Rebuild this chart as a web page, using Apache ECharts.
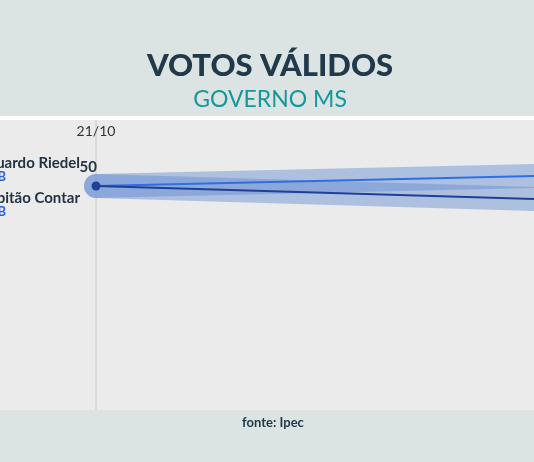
<!DOCTYPE html><html><head><meta charset="utf-8">
<script src="https://cdn.jsdelivr.net/npm/echarts@6/dist/echarts.min.js"></script>
<style>html,body{margin:0;padding:0;background:#dbe4e3}#c{width:534px;height:462px}</style></head><body><div id="c"></div>
<script>
const dates = [0, 1];
const riedel = [50, 52.2];
const contar = [50, 47.1];
const names = ['Eduardo Riedel', 'Capitão Contar'];
const parties = ['PSDB', 'PRTB'];
const font = 'Lato';
const chart = echarts.init(document.getElementById('c'));
function pts(v){return dates.map((d,i)=>[d,v[i]]);}
chart.setOption({
  animation:false,
  graphic:[
    {type:'rect',shape:{x:0,y:116,width:534,height:4},style:{fill:'#ffffff'},z:-2},
    {type:'rect',shape:{x:0,y:120,width:534,height:290},style:{fill:'#ebebeb'},z:-2},
    {type:'line',shape:{x1:96,y1:120,x2:96,y2:410},style:{stroke:'#c8c8c8',lineWidth:1},z:-1},
    {type:'text',x:270,y:66,style:{text:'VOTOS VÁLIDOS',fill:'#213a4b',font:'900 31px '+font,align:'center',verticalAlign:'middle'}},
    {type:'text',x:270,y:100,style:{text:'GOVERNO MS',fill:'#17979a',font:'400 23px '+font,align:'center',verticalAlign:'middle'}},
    {type:'text',x:96,y:131,style:{text:'21/10',fill:'#333',font:'14px '+font,align:'center',verticalAlign:'middle'}},
    {type:'text',x:80,y:163,style:{text:names[0],fill:'#223344',font:'bold 15px '+font,align:'right',verticalAlign:'middle'}},
    {type:'text',x:6,y:177,style:{text:parties[0],fill:'#2a63d0',font:'bold 13px '+font,align:'right',verticalAlign:'middle'}},
    {type:'text',x:80,y:198,style:{text:names[1],fill:'#223344',font:'bold 15px '+font,align:'right',verticalAlign:'middle'}},
    {type:'text',x:6,y:212,style:{text:parties[1],fill:'#2a63d0',font:'bold 13px '+font,align:'right',verticalAlign:'middle'}},
    {type:'text',x:273,y:423,style:{text:'fonte: Ipec',fill:'#213a4b',font:'bold 13px '+font,align:'center',verticalAlign:'middle'}}
  ],
  grid:{left:96,right:-6,top:0,bottom:52},
  xAxis:{type:'value',min:0,max:1,show:false},
  yAxis:{type:'value',min:0,max:91.5,show:false},
  series:[
    {type:'line',data:pts(riedel),symbol:'none',lineStyle:{width:24,color:'rgba(100,140,210,0.45)',cap:'round'},z:1,silent:true},
    {type:'line',data:pts(contar),symbol:'none',lineStyle:{width:24,color:'rgba(100,140,210,0.45)',cap:'round'},z:1,silent:true},
    {type:'line',data:pts(riedel),symbol:'none',lineStyle:{width:2,color:'#2f6fe0'},z:3},
    {type:'line',data:pts(contar),symbol:(v,p)=>p.dataIndex===0?'circle':'none',symbolSize:9,itemStyle:{color:'#1f3f9a'},lineStyle:{width:2,color:'#1f3f9a'},z:4,
     label:{show:true,position:[-12,-22],fontFamily:font,fontWeight:'bold',fontSize:15,color:'#223344',formatter:p=>p.dataIndex===0?String(p.value[1]):''}}
  ]
});
</script></body></html>
